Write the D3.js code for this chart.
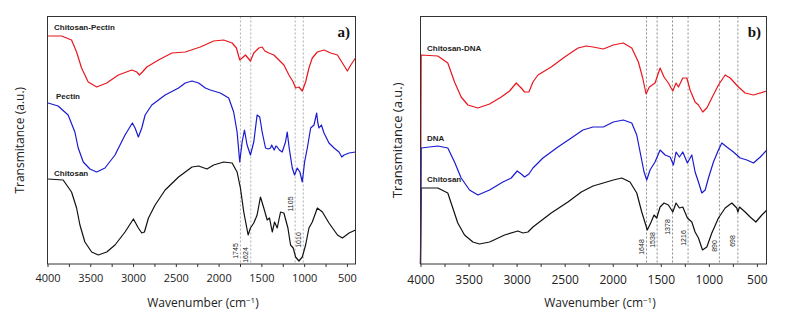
<!DOCTYPE html>
<html><head><meta charset="utf-8">
<script src="https://cdn.jsdelivr.net/npm/d3@7"></script>
<style>body{margin:0;background:#fff}</style>
</head><body><svg id="c" width="785" height="321"></svg>
<script>
// ---------- DATA ----------
const tickValues = [4000, 3500, 3000, 2500, 2000, 1500, 1000, 500];
const minorTickValues = [3750, 3250, 2750, 2250, 1750, 1250, 750];
const markersA = [1745, 1624, 1105, 1010];
const markersB = [1648, 1538, 1378, 1216, 890, 698];

// Panel a) [wavenumber cm-1, transmittance a.u.]
const chitosanA = [[3993,84],[3817,83],[3719,71],[3660,55],[3621,38],[3563,21],[3484,11],[3406,8],[3308,11],[3211,18],[3094,31],[2996,44],[2938,35],[2898,30],[2867,31],[2820,45],[2742,58],[2625,73],[2468,86],[2311,96],[2234,97],[2136,94],[2058,98],[1941,101],[1842,100],[1784,91],[1745,75],[1706,51],[1655,28],[1628,35],[1589,40],[1550,48],[1511,66],[1472,55],[1432,43],[1405,45],[1373,31],[1346,41],[1315,35],[1276,51],[1237,50],[1190,35],[1159,18],[1128,15],[1100,6],[1061,2],[1022,6],[983,18],[944,35],[905,41],[846,55],[787,51],[710,40],[611,28],[553,25],[475,30],[400,33]];
const pectinA = [[3993,160],[3876,157],[3759,148],[3680,131],[3641,115],[3582,101],[3504,94],[3425,91],[3328,95],[3211,108],[3094,128],[3008,140],[2976,135],[2938,126],[2898,135],[2859,148],[2781,158],[2625,168],[2468,175],[2390,180],[2311,182],[2234,180],[2155,175],[2097,173],[1980,170],[1882,165],[1824,151],[1784,131],[1753,101],[1725,121],[1698,133],[1667,118],[1628,108],[1589,121],[1550,148],[1519,146],[1491,131],[1452,115],[1420,114],[1393,115],[1380,118],[1350,113],[1330,117],[1315,116],[1290,113],[1257,111],[1218,121],[1198,131],[1175,115],[1139,95],[1112,88],[1081,95],[1050,91],[1022,81],[995,101],[963,115],[924,135],[885,138],[854,150],[840,140],[827,135],[799,138],[768,130],[710,120],[651,115],[593,111],[560,106],[534,108],[475,110],[400,111]];
const chitosanPectinA = [[3993,227],[3836,227],[3719,223],[3660,211],[3602,195],[3524,181],[3425,176],[3308,180],[3172,188],[3015,193],[2956,191],[2926,188],[2891,191],[2839,196],[2703,203],[2546,210],[2390,211],[2214,216],[2058,222],[1941,223],[1842,220],[1792,215],[1753,203],[1725,205],[1686,208],[1628,202],[1589,210],[1530,215],[1491,216],[1460,212],[1413,210],[1354,208],[1295,203],[1237,198],[1178,188],[1128,181],[1100,175],[1061,176],[1022,172],[983,181],[944,195],[905,205],[846,211],[768,213],[690,210],[611,208],[553,200],[495,192],[455,198],[400,205]];

// Panel b)
const chitosanB = [[4000,0],[3993,76],[3820,76],[3716,71],[3664,56],[3612,41],[3542,29],[3455,22],[3386,20],[3281,22],[3125,29],[2986,33],[2934,31],[2882,32],[2830,37],[2640,51],[2466,62],[2327,72],[2205,78],[2098,81],[1994,84],[1906,86],[1820,82],[1750,71],[1698,52],[1640,34],[1605,41],[1570,49],[1542,46],[1507,57],[1466,61],[1421,59],[1375,52],[1341,61],[1306,56],[1271,57],[1223,46],[1177,42],[1143,32],[1108,26],[1066,14],[1021,17],[969,31],[900,46],[830,56],[761,61],[709,56],[698,52],[681,57],[622,52],[570,47],[511,42],[448,49],[396,54]];
const dnaB = [[4000,0],[3993,116],[3820,118],[3716,116],[3646,102],[3577,86],[3490,74],[3403,69],[3281,74],[3143,82],[3056,86],[2994,93],[2952,90],[2917,87],[2872,90],[2830,96],[2726,106],[2570,117],[2431,126],[2310,134],[2205,137],[2098,137],[1994,142],[1890,144],[1802,141],[1750,129],[1709,109],[1674,92],[1646,84],[1612,94],[1560,102],[1507,114],[1455,109],[1403,107],[1368,99],[1341,112],[1306,107],[1271,112],[1223,101],[1177,109],[1143,92],[1108,82],[1073,71],[1038,74],[1004,86],[952,102],[900,114],[865,121],[813,117],[744,112],[674,106],[604,104],[535,101],[465,107],[396,114]];
const chitosanDnaB = [[4000,0],[3993,209],[3820,208],[3716,201],[3646,182],[3577,167],[3507,159],[3403,156],[3281,160],[3160,167],[3073,173],[3004,181],[2952,176],[2917,172],[2872,172],[2830,182],[2778,189],[2640,197],[2500,207],[2361,216],[2275,218],[2205,217],[2098,215],[1994,219],[1890,221],[1802,216],[1733,202],[1688,186],[1653,170],[1619,177],[1560,181],[1507,196],[1466,187],[1421,181],[1375,173],[1341,181],[1316,177],[1271,186],[1229,186],[1195,174],[1143,162],[1108,159],[1063,152],[1021,156],[969,166],[900,179],[830,189],[778,186],[692,177],[622,171],[535,169],[396,173]];

const seriesA = [
  {name: "Chitosan", data: chitosanA, color: "#111111", lx: 54, ly: 175.5},
  {name: "Pectin", data: pectinA, color: "#1a1ad2", lx: 56, ly: 99},
  {name: "Chitosan-Pectin", data: chitosanPectinA, color: "#e8161e", lx: 54, ly: 29.5}
];
const seriesB = [
  {name: "Chitosan", data: chitosanB, color: "#111111", lx: 427, ly: 181.5},
  {name: "Chitosan-DNA", data: chitosanDnaB, color: "#e8161e", lx: 427, ly: 50.5},
  {name: "DNA", data: dnaB, color: "#1a1ad2", lx: 427, ly: 140.5}
];

// ---------- LAYOUT ----------
const svg = d3.select("#c");
const panels = [
  {left: 47.5, right: 355.5, top: 16.5, bottom: 264, yRange: [263, 17], yDomain: [0, 246],
   series: seriesA, markers: markersA, markerLabelY: [251, 255, 204, 240], markerColor: "#9a9a9a",
   tag: "a)", tickFont: 11, tickBase: 282, ytFont: 12, ytX: 20, xtX: 203},
  {left: 420.5, right: 766.5, top: 16.5, bottom: 264, yRange: [264, 17], yDomain: [0, 247],
   series: seriesB, markers: markersB, markerLabelY: [247, 240, 227, 238, 246, 241], markerColor: "#6e6e6e",
   tag: "b)", tickFont: 12, tickBase: 283.5, ytFont: 13, ytX: 397.5, xtX: 600}
];

panels.forEach(p => {
  const x = d3.scaleLinear().domain([4000, 400]).range([p.left, p.right]);
  const y = d3.scaleLinear().domain(p.yDomain).range(p.yRange);
  const g = svg.append("g");

  // marker lines
  p.markers.forEach((m, i) => {
    g.append("line").attr("x1", x(m)).attr("x2", x(m)).attr("y1", p.top).attr("y2", p.bottom)
      .attr("stroke", p.markerColor).attr("stroke-width", 0.8).attr("stroke-dasharray", "2,2");
  });

  // curves
  const line = d3.line().x(d => x(d[0])).y(d => y(d[1]));
  p.series.forEach(s => {
    g.append("path").datum(s.data).attr("d", line).attr("fill", "none")
      .attr("stroke", s.color).attr("stroke-width", 1.2).attr("stroke-linejoin", "round");
  });

  // series labels
  p.series.forEach(s => {
    g.append("text").attr("x", s.lx).attr("y", s.ly).text(s.name)
      .attr("font-family", "Liberation Sans, Arial, sans-serif").attr("font-weight", "bold")
      .attr("font-size", 8).attr("fill", "#222");
  });

  // marker labels
  p.markers.forEach((m, i) => {
    g.append("text").attr("transform", `translate(${x(m) - 2.5},${p.markerLabelY[i]}) rotate(-90)`)
      .attr("text-anchor", "middle").attr("font-family", "Liberation Sans, Arial, sans-serif")
      .attr("font-size", 7).attr("fill", "#222").text(m);
  });

  // frame
  g.append("rect").attr("x", p.left).attr("y", p.top).attr("width", p.right - p.left)
    .attr("height", p.bottom - p.top).attr("fill", "none").attr("stroke", "#333").attr("stroke-width", 1);

  // x axis
  const ax = d3.axisBottom(x).tickValues(tickValues).tickSize(3).tickFormat(d3.format("d"));
  const axg = g.append("g").attr("transform", `translate(0,${p.bottom})`).call(ax);
  axg.select(".domain").remove();
  axg.selectAll(".tick line").attr("stroke", "#333");
  axg.selectAll(".tick text").attr("font-family", "Open Sans, sans-serif").attr("font-size", p.tickFont)
    .attr("fill", "#222").attr("dy", null).attr("y", p.tickBase - p.bottom);
  const minor = d3.axisBottom(x).tickValues(minorTickValues).tickSize(3).tickFormat("");
  const mg = g.append("g").attr("transform", `translate(0,${p.bottom})`).call(minor);
  mg.select(".domain").remove();
  mg.selectAll(".tick line").attr("stroke", "#333");

  // axis titles
  const xt = g.append("text").attr("x", p.xtX).attr("y", 306.5).attr("text-anchor", "middle")
    .attr("font-family", "Open Sans, sans-serif").attr("font-size", 12).attr("fill", "#222");
  xt.append("tspan").text("Wavenumber (cm");
  xt.append("tspan").attr("dy", -4).attr("font-size", 8).text("\u22121");
  xt.append("tspan").attr("dy", 4).text(")");

  g.append("text").attr("transform", `translate(${p.ytX + 4},${(p.top + p.bottom) / 2}) rotate(-90)`)
    .attr("text-anchor", "middle").attr("font-family", "Open Sans, sans-serif")
    .attr("font-size", p.ytFont).attr("fill", "#222").text("Transmitance (a.u.)");

  // panel tag
  g.append("text").attr("x", p.right - 5.5).attr("y", 36.5).attr("text-anchor", "end")
    .attr("font-family", "Liberation Serif, Times New Roman, serif").attr("font-weight", "bold")
    .attr("font-size", 15).attr("fill", "#111").text(p.tag);
});
</script></body></html>
